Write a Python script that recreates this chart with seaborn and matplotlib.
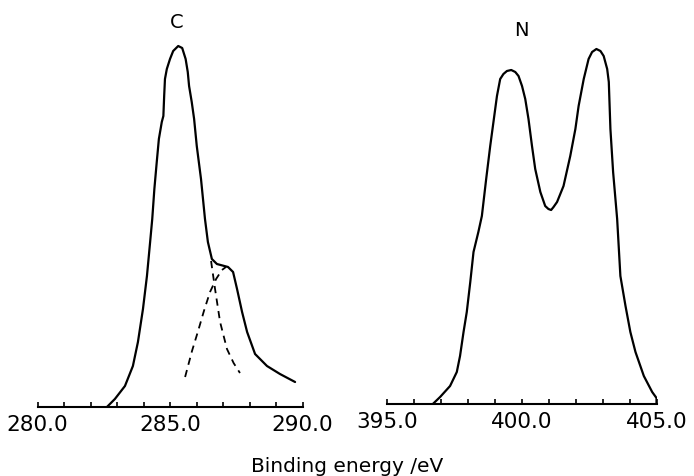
import numpy as np
import pandas as pd
import matplotlib
matplotlib.use('Agg')
import matplotlib.pyplot as plt
import seaborn as sns

sns.set_style('ticks')
plt.rcParams['font.family'] = ['DejaVu Sans']
plt.rcParams['text.color'] = 'black'

#%% DATA (binding energy [eV], intensity [arb. units])
c_energy = [282.62, 282.92, 283.30, 283.60, 283.79, 283.98, 284.13, 284.25, 284.33, 284.41,
            284.50, 284.58, 284.69, 284.75, 284.78, 284.81, 284.88, 285.00, 285.12, 285.31,
            285.46, 285.59, 285.67, 285.72, 285.82, 285.91, 286.01, 286.17, 286.32, 286.43,
            286.58, 286.77, 287.19, 287.38, 287.53, 287.72, 287.91, 288.21, 288.66, 289.15,
            289.72]
c_intensity = [0, 8, 21, 41, 65, 98, 131, 165, 188, 218,
               245, 268, 285, 291, 311, 328, 338, 348, 356, 361,
               359, 348, 335, 321, 305, 288, 261, 228, 188, 165,
               148, 143, 140, 135, 118, 95, 75, 53, 41, 33,
               25]

# dashed components of the C 1s fit
c_fit1_energy = [286.55, 286.70, 286.89, 287.15, 287.40, 287.64]
c_fit1_intensity = [146, 118, 85, 58, 44, 34]
c_fit2_energy = [285.57, 285.83, 286.06, 286.28, 286.51, 286.74, 286.96, 287.11]
c_fit2_intensity = [30, 56, 76, 96, 115, 128, 137, 140]

n_energy = [396.70, 396.97, 397.34, 397.59, 397.71, 397.84, 397.96, 398.09, 398.21, 398.39,
            398.52, 398.68, 398.83, 398.95, 399.08, 399.20, 399.32, 399.45, 399.61, 399.76,
            399.88, 400.01, 400.13, 400.25, 400.38, 400.50, 400.69, 400.87, 400.99, 401.09,
            401.18, 401.31, 401.55, 401.80, 401.99, 402.11, 402.30, 402.48, 402.61, 402.77,
            402.92, 403.04, 403.17, 403.23, 403.29, 403.39, 403.54, 403.66, 403.85, 404.03,
            404.22, 404.53, 404.84, 405.00, 405.00]
n_intensity = [0, 7, 18, 32, 48, 72, 92, 122, 152, 172,
               188, 225, 258, 282, 308, 325, 330, 333, 334, 332,
               328, 318, 305, 285, 258, 235, 212, 198, 195, 194,
               197, 202, 218, 248, 275, 298, 325, 345, 352, 355,
               353, 348, 335, 322, 275, 232, 185, 128, 98, 72,
               52, 28, 12, 6, 1]

c_ticks = [280.0, 285.0, 290.0]
n_ticks = [395.0, 400.0, 405.0]

#%% PLOT
fig = plt.figure(figsize=(6.94, 4.77), dpi=100)
ax1 = fig.add_axes([37.5 / 694, 69 / 477, 265 / 694, 398 / 477])
ax2 = fig.add_axes([387 / 694, 72 / 477, 269.5 / 694, 395 / 477])

c_df = pd.DataFrame({'energy': c_energy, 'intensity': c_intensity})
n_df = pd.DataFrame({'energy': n_energy, 'intensity': n_intensity})

sns.lineplot(data=c_df, x='energy', y='intensity', sort=False, estimator=None,
             color='black', linewidth=1.6, ax=ax1)
sns.lineplot(x=c_fit1_energy, y=c_fit1_intensity, sort=False, estimator=None,
             color='black', linewidth=1.3, linestyle=(0, (4, 3)), ax=ax1)
sns.lineplot(x=c_fit2_energy, y=c_fit2_intensity, sort=False, estimator=None,
             color='black', linewidth=1.3, linestyle=(0, (4, 3)), ax=ax1)
sns.lineplot(data=n_df, x='energy', y='intensity', sort=False, estimator=None,
             color='black', linewidth=1.6, ax=ax2)

for ax, ticks, top in [(ax1, c_ticks, 398), (ax2, n_ticks, 395)]:
    ax.set_xlim(ticks[0], ticks[-1])
    ax.set_ylim(0, top)
    ax.set_xticks(ticks, [f'{t:.1f}' for t in ticks])
    ax.set_xticks(np.arange(ticks[0], ticks[-1] + 0.5, 1.0), minor=True)
    ax.set_yticks([])
    ax.set_xlabel('')
    ax.set_ylabel('')
    ax.tick_params(axis='x', which='both', direction='in', length=3.8, width=1.2,
                   pad=5, labelsize=15.5, colors='black')
    sns.despine(ax=ax, left=True)
    ax.spines['bottom'].set_linewidth(1.5)
    ax.spines['bottom'].set_color('black')
    ax.patch.set_alpha(0)

fig.text(177 / 694, 1 - 22 / 477, 'C', ha='center', va='center', fontsize=14)
fig.text(521 / 694, 1 - 30 / 477, 'N', ha='center', va='center', fontsize=14)
fig.text(347 / 694, 1 - 467 / 477, 'Binding energy /eV', ha='center', va='center', fontsize=14.5)

plt.savefig('out.png', dpi=100)
plt.close()
